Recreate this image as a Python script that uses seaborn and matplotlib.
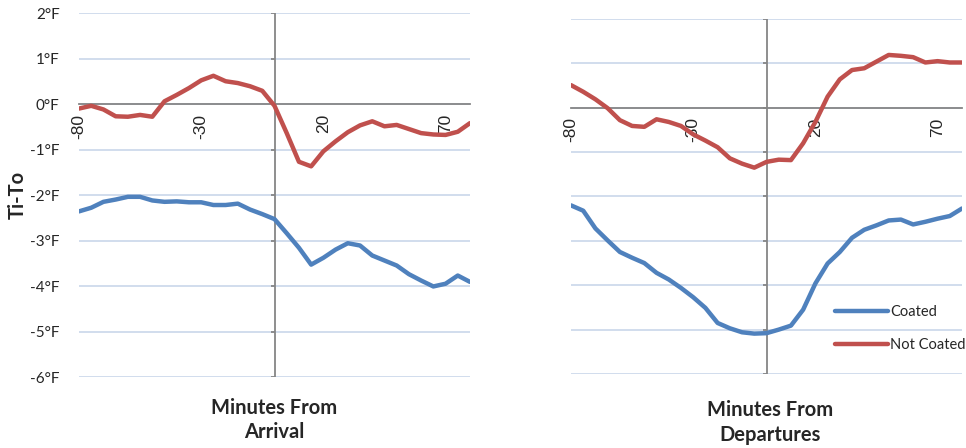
import numpy as np
import pandas as pd
import seaborn as sns
import matplotlib.pyplot as plt

# categories: minutes relative to arrival / departure
minutes = list(range(-80, 81, 5))

arrival_coated = [-2.36, -2.28, -2.15, -2.10, -2.04, -2.04, -2.12, -2.15, -2.14, -2.16,
                  -2.16, -2.22, -2.22, -2.19, -2.32, -2.42, -2.53, -2.84, -3.16, -3.53,
                  -3.38, -3.20, -3.06, -3.11, -3.33, -3.44, -3.55, -3.74, -3.88, -4.01,
                  -3.95, -3.77, -3.91]
arrival_not_coated = [-0.10, -0.04, -0.12, -0.27, -0.28, -0.24, -0.28, 0.06, 0.20, 0.35,
                      0.52, 0.62, 0.50, 0.46, 0.39, 0.29, -0.04, -0.64, -1.27, -1.37,
                      -1.04, -0.82, -0.62, -0.47, -0.38, -0.49, -0.46, -0.55, -0.64, -0.67,
                      -0.68, -0.61, -0.42]
departure_coated = [-2.20, -2.32, -2.72, -2.99, -3.25, -3.38, -3.50, -3.72, -3.87, -4.06,
                    -4.27, -4.51, -4.85, -4.97, -5.06, -5.09, -5.08, -5.00, -4.91, -4.55,
                    -3.96, -3.51, -3.25, -2.93, -2.75, -2.65, -2.54, -2.52, -2.63, -2.57,
                    -2.50, -2.44, -2.27]
departure_not_coated = [0.51, 0.36, 0.19, -0.01, -0.28, -0.41, -0.43, -0.26, -0.32, -0.41,
                        -0.60, -0.74, -0.89, -1.14, -1.26, -1.35, -1.22, -1.17, -1.18, -0.80,
                        -0.32, 0.25, 0.64, 0.85, 0.89, 1.04, 1.19, 1.17, 1.14, 1.02,
                        1.05, 1.02, 1.02]

series_names = ["Coated", "Not Coated"]
series_colors = ["#4F81BD", "#C0504D"]
y_ticks = list(range(-6, 3))
y_tick_labels = [f"{v}°F" for v in y_ticks]
x_labeled = [-80, -30, 20, 70]

sns.set_style("white")
plt.rcParams["font.family"] = ["Lato", "DejaVu Sans"]

axis_grey = "#868686"
grid_blue = "#C9D7EA"


def long_form(coated, not_coated):
    n = len(minutes)
    return pd.DataFrame({
        "minutes": minutes * 2,
        "delta": coated + not_coated,
        "series": [series_names[0]] * n + [series_names[1]] * n,
    })


def panel(ax, coated, not_coated, show_y, show_legend):
    df = long_form(coated, not_coated)
    sns.lineplot(data=df, x="minutes", y="delta", hue="series", hue_order=series_names,
                 palette=series_colors, linewidth=3.2, estimator=None, ax=ax,
                 legend=show_legend, zorder=3)
    ax.set_xlim(-80, 80)
    ax.set_ylim(-6, 2)
    ax.set_xlabel("")
    ax.set_ylabel("")

    ax.set_yticks(y_ticks)
    ax.grid(axis="y", color=grid_blue, linewidth=1.2, zorder=0)
    ax.grid(axis="x", visible=False)
    for s in ["left", "right", "top"]:
        ax.spines[s].set_visible(False)
    ax.spines["bottom"].set_position(("data", 0))
    ax.spines["bottom"].set_color(axis_grey)
    ax.spines["bottom"].set_linewidth(1.3)

    ax.set_xticks(minutes)
    ax.set_xticklabels([str(m) if m in x_labeled else "" for m in minutes],
                       rotation=90, fontfamily="Liberation Sans", fontsize=12.5)
    ax.tick_params(axis="x", direction="out", length=5, width=1.3, color=axis_grey, pad=2)

    # vertical axis crossing at minute 0
    ax.axvline(0, color=axis_grey, linewidth=1.3, zorder=2)
    ax.hlines(y_ticks, -1.6, 0, color=axis_grey, linewidth=1.3, zorder=2)

    if show_y:
        ax.set_yticklabels(y_tick_labels)
        ax.tick_params(axis="y", length=0, pad=14, labelsize=11)
    else:
        ax.tick_params(axis="y", length=0, labelleft=False)


fig = plt.figure(figsize=(9.66, 4.48), dpi=100)
ax1 = fig.add_axes([79 / 966, 1 - 377 / 448, 391 / 966, 364 / 448])
ax2 = fig.add_axes([571 / 966, 1 - 374 / 448, 391 / 966, 355 / 448])

panel(ax1, arrival_coated, arrival_not_coated, True, False)
panel(ax2, departure_coated, departure_not_coated, False, True)

sns.move_legend(ax2, loc="center left", bbox_to_anchor=(835 / 966, 1 - 328.5 / 448),
                bbox_transform=fig.transFigure, title=None, frameon=False,
                borderaxespad=0, borderpad=0, handlelength=3.6, handletextpad=0.2,
                labelspacing=1.25, fontsize=10.5)
for line in ax2.get_legend().get_lines():
    line.set_linewidth(3.2)

fig.text(18 / 966, 1 - 195 / 448, "Ti-To", rotation=90, ha="center", va="center",
         fontsize=14.5, fontweight="bold")
fig.text(274.5 / 966, 1 - 398 / 448, "Minutes From\nArrival", ha="center", va="top",
         fontsize=14.5, fontweight="bold", linespacing=1.25)
fig.text(770 / 966, 1 - 400 / 448, "Minutes From\nDepartures", ha="center", va="top",
         fontsize=14.5, fontweight="bold", linespacing=1.3)

fig.savefig("out.png", dpi=100)
